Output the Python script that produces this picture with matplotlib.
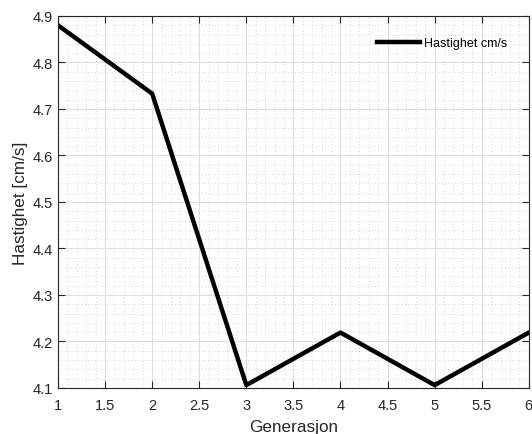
import numpy as np
import matplotlib.pyplot as plt
from matplotlib.ticker import MultipleLocator

plt.rcParams['font.family'] = ['Liberation Sans', 'DejaVu Sans']

# --- DATA ---
generasjon = [1, 2, 3, 4, 5, 6]
hastighet = [4.88, 4.733, 4.106, 4.219, 4.106, 4.219]

fig = plt.figure(figsize=(5.32, 4.35), dpi=100)
ax = fig.add_axes([0.109, 0.106, 0.885, 0.855])

ax.plot(generasjon, hastighet, color='black', linewidth=3.2, label='Hastighet cm/s')

ax.set_xlim(1, 6)
ax.set_ylim(4.1, 4.9)
ax.xaxis.set_major_locator(MultipleLocator(0.5))
ax.xaxis.set_minor_locator(MultipleLocator(0.1))
ax.yaxis.set_major_locator(MultipleLocator(0.1))
ax.yaxis.set_minor_locator(MultipleLocator(0.02))
ax.set_xticklabels([f'{v:g}' for v in ax.get_xticks()])
ax.set_yticklabels([f'{v:.1f}' for v in ax.get_yticks()])

# rutenett i MATLAB-stil
ax.grid(True, which='major', color='#dedede', linewidth=0.8, linestyle='-')
ax.grid(True, which='minor', color='#c8c8c8', linewidth=0.6, linestyle=(0, (1, 3)))
ax.set_axisbelow(True)

ax.tick_params(which='major', direction='in', length=5, width=0.8, top=True, right=True,
               labelsize=10.5, colors='#262626')
ax.tick_params(axis='x', which='major', pad=7)
ax.tick_params(axis='y', which='major', pad=4)
ax.tick_params(which='minor', length=0, top=True, right=True)
for s in ax.spines.values():
    s.set_color('#262626')
    s.set_linewidth(0.8)

ax.set_xlabel('Generasjon', fontsize=12.3, color='#262626', labelpad=5)
ax.set_ylabel('Hastighet [cm/s]', fontsize=12.3, color='#262626', labelpad=3)

leg = ax.legend(loc='upper right', frameon=False, fontsize=9, handlelength=3.5,
                handletextpad=0.3, borderaxespad=0.0, bbox_to_anchor=(0.965, 0.957))

fig.savefig('out.png', dpi=100)
